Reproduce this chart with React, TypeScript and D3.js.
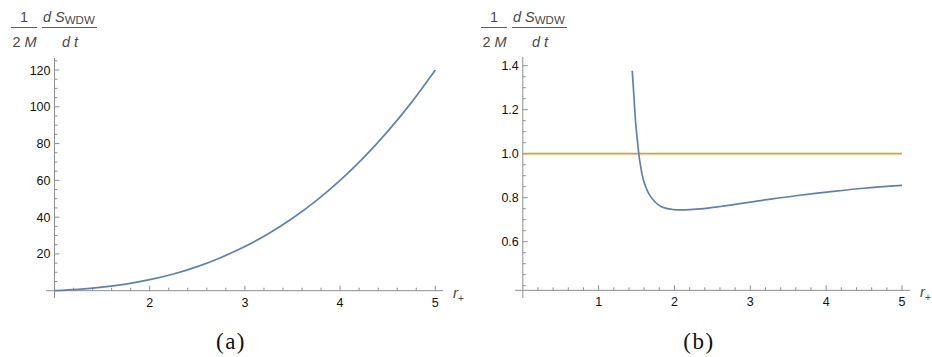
import * as d3 from "d3"

// panel (a): left plot
const leftR = [1, 1.25, 1.5, 1.75, 2, 2.25, 2.5, 2.75, 3, 3.25, 3.5, 3.75, 4, 4.25, 4.5, 4.75, 5]
const leftRate = [0, 0.7, 1.9, 3.6, 6, 9.1, 13.1, 18.1, 24, 31.1, 39.4, 49, 60, 72.5, 86.6, 102.4, 120]
const leftXTicks = [2, 3, 4, 5]
const leftYTicks = [20, 40, 60, 80, 100, 120]

// panel (b): right plot
const rightR = [1.443, 1.464, 1.487, 1.517, 1.543, 1.596, 1.684, 1.816, 1.991, 2.15, 2.342, 2.605, 3.22, 3.6, 4.096, 4.5, 5]
const rightRate = [1.377, 1.268, 1.146, 1.04, 0.965, 0.874, 0.806, 0.761, 0.746, 0.745, 0.749, 0.76, 0.791, 0.809, 0.829, 0.843, 0.856]
const refLine = [1, 1]
const refR = [0, 5]
const rightXTicks = [1, 2, 3, 4, 5]
const rightYTicks = [0.6, 0.8, 1.0, 1.2, 1.4]

const BLUE = "#5e81b5"
const ORANGE = "#e19c24"
const AXIS = "#8f8f8f"
const LABEL = "#4a4a4a"
const FONT = "'Liberation Sans', Arial, sans-serif"

type Cfg = {
  x: d3.ScaleLinear<number, number>
  y: d3.ScaleLinear<number, number>
  xMin: number
  xMax: number
  yMin: number
  yMax: number
  xOrigin: number
  yOrigin: number
  xTicks: number[]
  yTicks: number[]
  xMinor: number
  yMinor: number
  yFmt: (v: number) => string
  offset: number
  caption: string
  captionX: number
}

function YLabel({ dx }: { dx: number }) {
  return (
    <g transform={`translate(${dx},0)`} fill={LABEL} fontFamily={FONT} fontSize={14.5}>
      <text x={24} y={22} textAnchor="middle">1</text>
      <line x1={11} x2={37} y1={27.5} y2={27.5} stroke={LABEL} strokeWidth={0.9} />
      <text x={24.5} y={47} textAnchor="middle">
        2 <tspan fontStyle="italic">M</tspan>
      </text>
      <text x={43} y={22} fontStyle="italic">
        d S<tspan fontStyle="normal" fontSize={11.5} dy={2}>WDW</tspan>
      </text>
      <line x1={42} x2={97} y1={27.5} y2={27.5} stroke={LABEL} strokeWidth={0.9} />
      <text x={70} y={47} textAnchor="middle" fontStyle="italic">d t</text>
    </g>
  )
}

function Axes({ c }: { c: Cfg }) {
  const { x, y } = c
  const ax = x(c.xOrigin)
  const ay = y(c.yOrigin)
  const xMinorTicks = d3.range(0, c.xMax + 1e-6, c.xMinor).filter((v) => v > c.xMin - 1e-6 && x(v) > ax + 1)
  const yMinorTicks = d3.range(0, c.yMax + 1e-6, c.yMinor).filter((v) => v >= c.yMin && y(v) < ay - 1)
  return (
    <g>
      <line x1={x(c.xMin)} x2={x(c.xMax)} y1={ay} y2={ay} stroke={AXIS} strokeWidth={1} />
      <line x1={ax} x2={ax} y1={y(c.yMin)} y2={y(c.yMax)} stroke={AXIS} strokeWidth={1} />
      {xMinorTicks.map((v, i) => {
        const major = c.xTicks.some((t) => Math.abs(t - v) < 1e-6)
        return <line key={i} x1={x(v)} x2={x(v)} y1={ay} y2={ay - (major ? 5 : 3)} stroke={AXIS} />
      })}
      {yMinorTicks.map((v, i) => {
        const major = c.yTicks.some((t) => Math.abs(t - v) < 1e-6)
        return <line key={i} x1={ax} x2={ax + (major ? 5 : 3)} y1={y(v)} y2={y(v)} stroke={AXIS} />
      })}
      {c.xTicks.map((t) => (
        <text key={t} x={x(t)} y={ay + 16} textAnchor="middle" fontFamily={FONT} fontSize={12.5} fill="#111">
          {t}
        </text>
      ))}
      {c.yTicks.map((t) => (
        <text key={t} x={ax - 4} y={y(t) + 4.5} textAnchor="end" fontFamily={FONT} fontSize={12.5} fill="#111">
          {c.yFmt(t)}
        </text>
      ))}
      <text x={x(c.xMax) + 10} y={ay + 7} fontFamily={FONT} fontSize={15} fontStyle="italic" fill={LABEL}>
        r<tspan fontStyle="normal" fontSize={10} dy={4}>+</tspan>
      </text>
      <YLabel dx={c.offset} />
      <text x={c.captionX} y={349} textAnchor="middle" fontFamily="'Liberation Serif', 'DejaVu Serif', serif"
        fontSize={23} letterSpacing={1.5} fill="#111">
        {c.caption}
      </text>
    </g>
  )
}

export default function App() {
  const lx = d3.scaleLinear().domain([1, 5]).range([54.5, 435.3])
  const ly = d3.scaleLinear().domain([0, 120]).range([290.7, 70])
  const rx = d3.scaleLinear().domain([0, 5]).range([522.8, 902])
  const ry = d3.scaleLinear().domain([0.6, 1.4]).range([241.7, 65.7])

  const left: Cfg = {
    x: lx, y: ly, xMin: lx.invert(46), xMax: lx.invert(443), yMin: ly.invert(298), yMax: ly.invert(58),
    xOrigin: 1, yOrigin: 0, xTicks: leftXTicks, yTicks: leftYTicks, xMinor: 0.2, yMinor: 5,
    yFmt: (v) => String(v), offset: 0, caption: "(a)", captionX: 231,
  }
  const right: Cfg = {
    x: rx, y: ry, xMin: rx.invert(515), xMax: rx.invert(910), yMin: ry.invert(298), yMax: ry.invert(57),
    xOrigin: 0, yOrigin: ry.invert(290.3), xTicks: rightXTicks, yTicks: rightYTicks, xMinor: 0.2, yMinor: 0.05,
    yFmt: (v) => v.toFixed(1), offset: 470, caption: "(b)", captionX: 699,
  }

  const leftLine = d3.line<number>().x((_, i) => lx(leftR[i])).y((d) => ly(d)).curve(d3.curveMonotoneX)
  const rightLine = d3.line<number>().x((_, i) => rx(rightR[i])).y((d) => ry(d)).curve(d3.curveCatmullRom.alpha(0.5))
  const refPath = d3.line<number>().x((_, i) => rx(refR[i])).y((d) => ry(d))

  return (
    <svg width={932} height={357} style={{ position: "absolute", left: 0, top: 0, background: "#fff" }}>
      <Axes c={left} />
      <path d={leftLine(leftRate) ?? ""} fill="none" stroke={BLUE} strokeWidth={1.7} />
      <Axes c={right} />
      <path d={refPath(refLine) ?? ""} fill="none" stroke={ORANGE} strokeWidth={1.7} />
      <path d={rightLine(rightRate) ?? ""} fill="none" stroke={BLUE} strokeWidth={1.7} />
    </svg>
  )
}
